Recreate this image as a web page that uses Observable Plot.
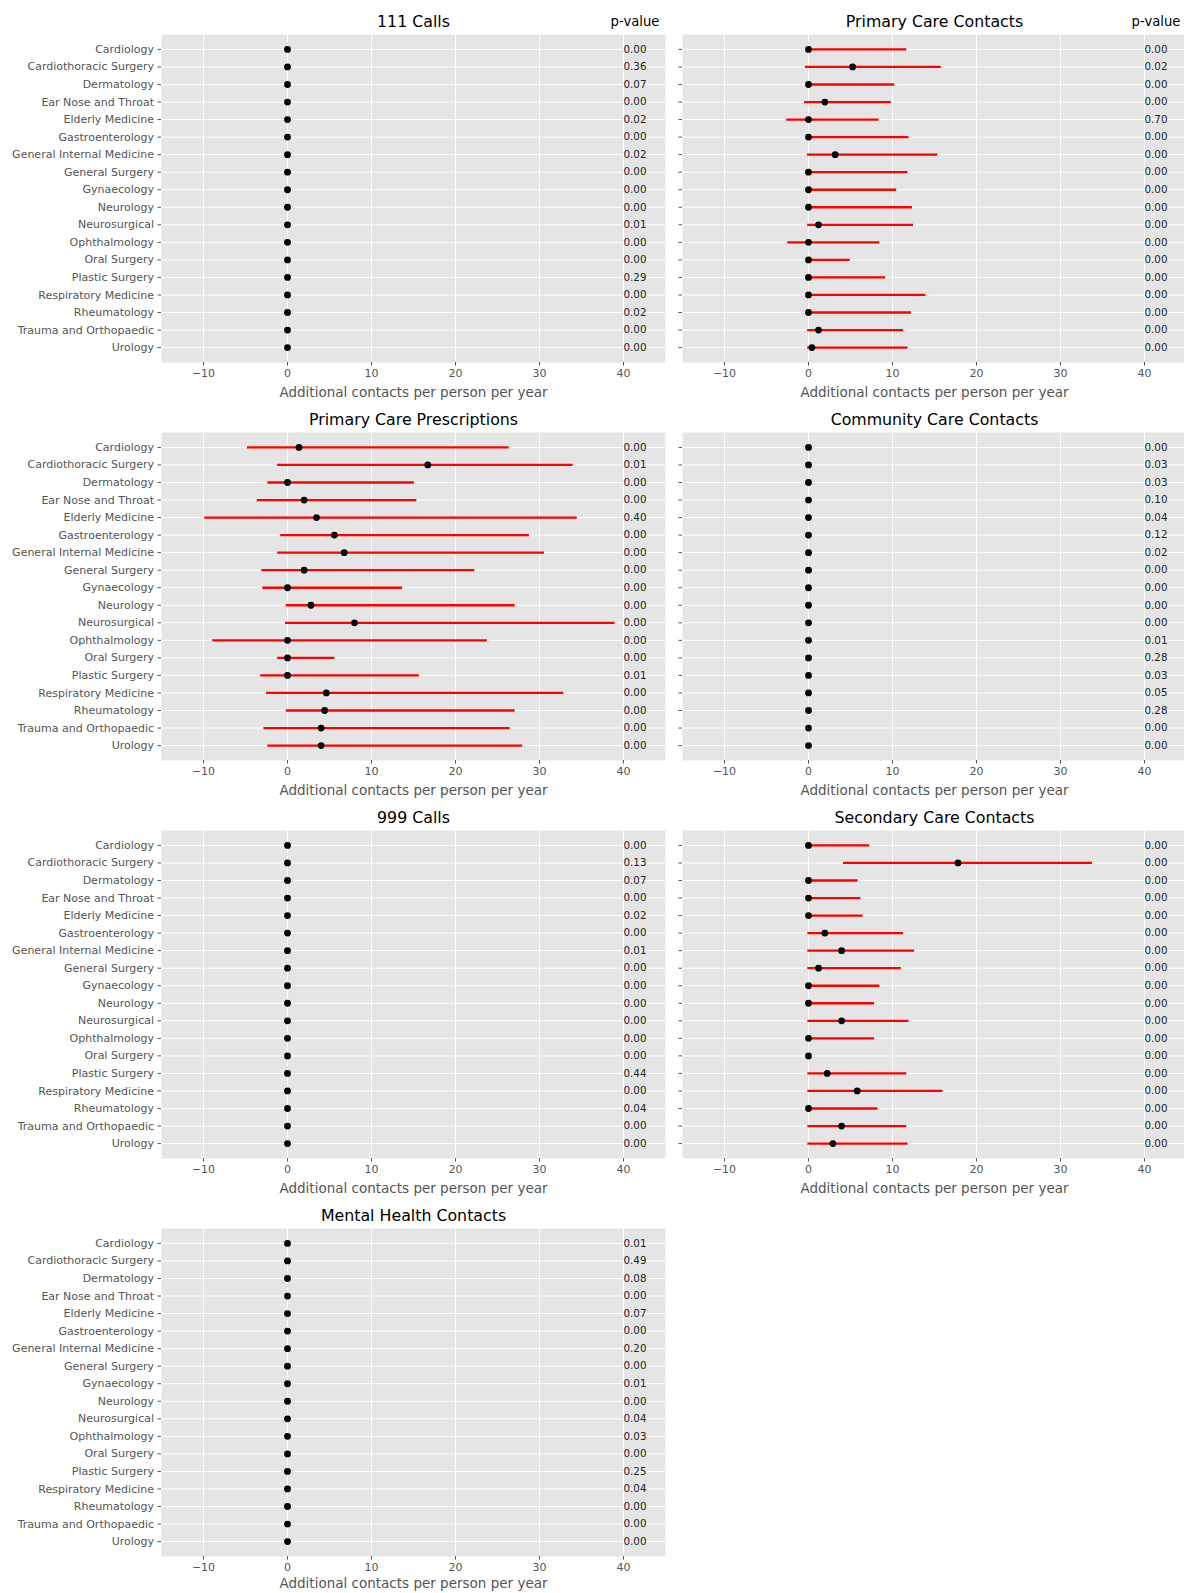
<!DOCTYPE html>
<html>
<head>
<meta charset="utf-8">
<script src="https://cdn.jsdelivr.net/npm/d3@7"></script>
<script src="https://cdn.jsdelivr.net/npm/@observablehq/plot@0.6"></script>
<style>
html, body { margin: 0; padding: 0; background: #fff; }
#fig { position: relative; width: 1184px; height: 1593px; overflow: hidden; background: #fff; font-family: "DejaVu Sans", sans-serif; }
#fig > div { position: absolute; }
</style>
</head>
<body>
<div id="fig"></div>
<script>
// ---------- data ----------
const categories = ["Cardiology", "Cardiothoracic Surgery", "Dermatology", "Ear Nose and Throat", "Elderly Medicine",
  "Gastroenterology", "General Internal Medicine", "General Surgery", "Gynaecology", "Neurology", "Neurosurgical",
  "Ophthalmology", "Oral Surgery", "Plastic Surgery", "Respiratory Medicine", "Rheumatology",
  "Trauma and Orthopaedic", "Urology"];

const xTicks = [-10, 0, 10, 20, 30, 40];
const xDomain = [-15, 45];
const pColumnX = 40;
const xLabel = "Additional contacts per person per year";
const pHeader = "p-value";

const zeroEstimates = [0, 0, 0, 0, 0, 0, 0, 0, 0, 0, 0, 0, 0, 0, 0, 0, 0, 0];

// 111 Calls
const calls111P = [0.00, 0.36, 0.07, 0.00, 0.02, 0.00, 0.02, 0.00, 0.00, 0.00, 0.01, 0.00, 0.00, 0.29, 0.00, 0.02, 0.00, 0.00];

// Primary Care Contacts
const primaryContactsEst = [0, 5.25, 0, 1.95, 0, 0, 3.18, 0, 0, 0, 1.19, 0, 0, 0, 0, 0, 1.19, 0.4];
const primaryContactsLo = [0, -0.36, 0, -0.48, -2.6, 0, -0.12, 0, 0, 0, -0.1, -2.47, 0, 0, 0, 0, -0.1, -0.1];
const primaryContactsHi = [11.7, 15.8, 10.26, 9.86, 8.4, 11.97, 15.4, 11.85, 10.5, 12.37, 12.5, 8.5, 4.97, 9.18, 13.96, 12.25, 11.33, 11.85];
const primaryContactsP = [0.00, 0.02, 0.00, 0.00, 0.70, 0.00, 0.00, 0.00, 0.00, 0.00, 0.00, 0.00, 0.00, 0.00, 0.00, 0.00, 0.00, 0.00];

// Primary Care Prescriptions
const prescriptionsEst = [1.37, 16.7, 0, 1.98, 3.45, 5.58, 6.75, 1.98, 0, 2.79, 7.97, 0, 0, 0, 4.62, 4.42, 4.0, 4.0];
const prescriptionsLo = [-4.77, -1.17, -2.34, -3.6, -9.85, -0.81, -1.17, -3.05, -2.94, -0.15, -0.25, -8.9, -1.17, -3.2, -2.49, -0.15, -2.8, -2.34];
const prescriptionsHi = [26.4, 34.0, 15.1, 15.4, 34.5, 28.8, 30.6, 22.3, 13.7, 27.1, 39.0, 23.8, 5.63, 15.7, 32.9, 27.1, 26.5, 28.0];
const prescriptionsP = [0.00, 0.01, 0.00, 0.00, 0.40, 0.00, 0.00, 0.00, 0.00, 0.00, 0.00, 0.00, 0.00, 0.01, 0.00, 0.00, 0.00, 0.00];

// Community Care Contacts
const communityP = [0.00, 0.03, 0.03, 0.10, 0.04, 0.12, 0.02, 0.00, 0.00, 0.00, 0.00, 0.01, 0.28, 0.03, 0.05, 0.28, 0.00, 0.00];

// 999 Calls
const calls999P = [0.00, 0.13, 0.07, 0.00, 0.02, 0.00, 0.01, 0.00, 0.00, 0.00, 0.00, 0.00, 0.00, 0.44, 0.00, 0.04, 0.00, 0.00];

// Secondary Care Contacts
const secondaryEst = [0, 17.8, 0, 0, 0, 1.95, 3.94, 1.19, 0, 0, 3.94, 0, 0, 2.23, 5.8, 0, 3.94, 2.9];
const secondaryLo = [0, 4.17, 0, 0, 0, -0.08, -0.08, -0.08, 0, 0, -0.08, 0, 0, -0.08, -0.08, 0, -0.08, -0.08];
const secondaryHi = [7.3, 33.8, 5.9, 6.24, 6.5, 11.33, 12.64, 11.05, 8.5, 7.87, 11.97, 7.87, 0, 11.7, 16.0, 8.27, 11.7, 11.85];
const secondaryP = [0.00, 0.00, 0.00, 0.00, 0.00, 0.00, 0.00, 0.00, 0.00, 0.00, 0.00, 0.00, 0.00, 0.00, 0.00, 0.00, 0.00, 0.00];

// Mental Health Contacts
const mentalP = [0.01, 0.49, 0.08, 0.00, 0.07, 0.00, 0.20, 0.00, 0.01, 0.00, 0.04, 0.03, 0.00, 0.25, 0.04, 0.00, 0.00, 0.00];

const panels = [
  {title: "111 Calls", est: zeroEstimates, lo: null, hi: null, p: calls111P, row: 0, col: 0},
  {title: "Primary Care Contacts", est: primaryContactsEst, lo: primaryContactsLo, hi: primaryContactsHi, p: primaryContactsP, row: 0, col: 1},
  {title: "Primary Care Prescriptions", est: prescriptionsEst, lo: prescriptionsLo, hi: prescriptionsHi, p: prescriptionsP, row: 1, col: 0},
  {title: "Community Care Contacts", est: zeroEstimates, lo: null, hi: null, p: communityP, row: 1, col: 1},
  {title: "999 Calls", est: zeroEstimates, lo: null, hi: null, p: calls999P, row: 2, col: 0},
  {title: "Secondary Care Contacts", est: secondaryEst, lo: secondaryLo, hi: secondaryHi, p: secondaryP, row: 2, col: 1},
  {title: "Mental Health Contacts", est: zeroEstimates, lo: null, hi: null, p: mentalP, row: 3, col: 0}
];

// ---------- layout ----------
const plotTops = [34, 432, 830, 1228];
const plotH = 328;
const plotW = 504;
const marginTop = 34, marginBottom = 40;
const colLayout = [
  {left: 0, marginLeft: 161, marginRight: 5},
  {left: 660, marginLeft: 22, marginRight: 0}
];

const fig = document.getElementById("fig");

for (const pn of panels) {
  const cl = colLayout[pn.col];
  const data = categories.map((c, i) => ({
    cat: c,
    est: pn.est[i],
    lo: pn.lo ? pn.lo[i] : null,
    hi: pn.hi ? pn.hi[i] : null,
    p: pn.p[i]
  }));
  const showLabels = pn.col === 0;
  const labelDy = pn.row === 3 ? 27.5 : 30;
  const marks = [
    Plot.frame({fill: "#E5E5E5", stroke: "none"}),
    Plot.gridX(xTicks, {stroke: "white", strokeOpacity: 1, strokeWidth: 1}),
    Plot.gridY(categories, {stroke: "white", strokeOpacity: 1, strokeWidth: 1}),
  ];
  if (pn.lo) {
    marks.push(Plot.ruleY(data, {y: "cat", x1: "lo", x2: "hi", stroke: "red", strokeWidth: 2.3}));
  }
  marks.push(
    Plot.dot(data, {x: "est", y: "cat", r: 3.4, fill: "black", stroke: "none"}),
    Plot.text(data, {x: () => pColumnX, y: "cat", text: d => d.p.toFixed(2), textAnchor: "start", lineAnchor: "middle", fontSize: 10.3, fill: "#222"}),
    Plot.axisX(xTicks, {tickSize: 3.5, tickPadding: 3, label: null, fontSize: 11}),
    Plot.axisY({tickSize: 3.5, tickPadding: 4, label: null, fontSize: 11, tickFormat: showLabels ? (d => d) : (() => "")}),
    Plot.text([pn.title], {text: d => d, frameAnchor: "top", lineAnchor: "middle", dy: -12.5, fontSize: 15.8, fill: "black"}),
    Plot.text([xLabel], {text: d => d, frameAnchor: "bottom", lineAnchor: "middle", dy: labelDy, fontSize: 13.5, fill: "#555555"})
  );
  if (pn.row === 0) {
    marks.push(Plot.text([pHeader], {text: d => d, x: () => pColumnX, frameAnchor: "top", lineAnchor: "middle", dy: -12.5, dx: 11.5, textAnchor: "middle", fontSize: 13.2, fill: "black"}));
  }
  const chart = Plot.plot({
    width: cl.marginLeft + plotW + cl.marginRight,
    height: marginTop + plotH + marginBottom,
    marginLeft: cl.marginLeft,
    marginRight: cl.marginRight,
    marginTop,
    marginBottom,
    x: {domain: xDomain, label: null},
    y: {type: "point", domain: categories, padding: 0.85, round: false, label: null},
    style: {fontFamily: "DejaVu Sans", fontSize: "11px", color: "#555555", background: "transparent", overflow: "visible", maxWidth: "none"},
    marks
  });
  const holder = document.createElement("div");
  holder.style.left = cl.left + "px";
  holder.style.top = (plotTops[pn.row] - marginTop) + "px";
  holder.appendChild(chart);
  fig.appendChild(holder);
}
</script>
</body>
</html>
